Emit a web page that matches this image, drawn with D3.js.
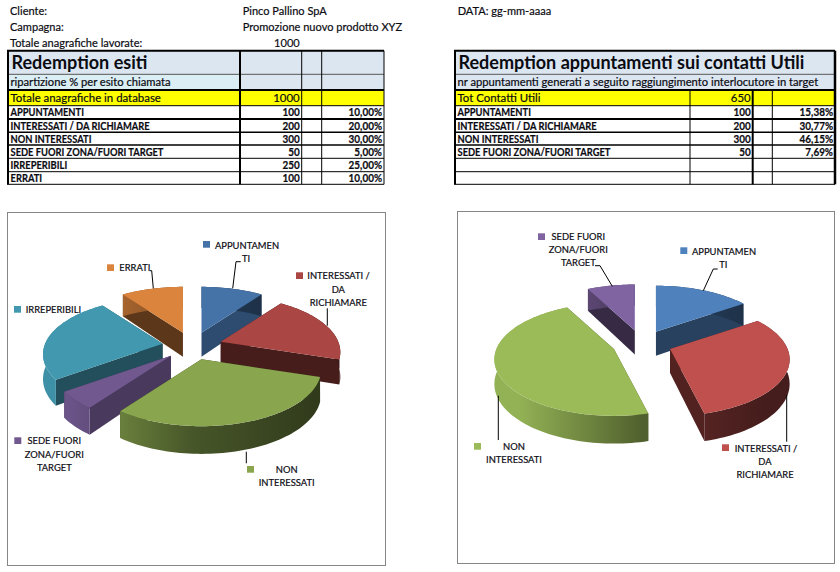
<!DOCTYPE html>
<html><head><meta charset="utf-8">
<script src="https://cdnjs.cloudflare.com/ajax/libs/d3/7.8.5/d3.min.js"></script>
<style>html,body{margin:0;padding:0;background:#fff}svg{display:block}text{font-family:Lato,Carlito,sans-serif;fill:#0b0b12;stroke:#0b0b12;stroke-width:.2}</style>
</head><body><svg id="c" width="840" height="572"></svg>
<script>
// ---------- data ----------
const categories = ["APPUNTAMENTI","INTERESSATI / DA RICHIAMARE","NON INTERESSATI","SEDE FUORI ZONA/FUORI TARGET","IRREPERIBILI","ERRATI"];
const esitiValues = [100,200,300,50,250,100];
const esitiPct = ["10,00%","20,00%","30,00%","5,00%","25,00%","10,00%"];
const utiliValues = [100,200,300,50];
const utiliPct = ["15,38%","30,77%","46,15%","7,69%"];
const headerInfo = [["Cliente:","Pinco Pallino SpA"],["Campagna:","Promozione nuovo prodotto XYZ"],["Totale anagrafiche lavorate:","1000"]];
const dateLabel = "DATA: gg-mm-aaaa";
const esitiTitle = ["Redemption esiti","ripartizione % per esito chiamata","Totale anagrafiche in database","1000"];
const utiliTitle = ["Redemption appuntamenti sui contatti Utili","nr appuntamenti generati a seguito raggiungimento interlocutore in target","Tot Contatti Utili","650"];
const leftColors = ["#4572a7","#aa4643","#89a54e","#71588f","#4198af","#db843d"];
const rightColors = ["#4f81bd","#c0504d","#9bbb59","#8064a2"];
const leftFaceShade = [.67,.42,.42,.65,.52,.42];
const rightFaceShade = [.5,.42,.42,.42];
const wrappedLabels = [["APPUNTAMEN","TI"],["INTERESSATI /","DA","RICHIAMARE"],["NON","INTERESSATI"],["SEDE FUORI","ZONA/FUORI","TARGET"],["IRREPERIBILI"],["ERRATI"]];

// ---------- layout (not data) ----------
const svg = d3.select("#c");
const defs = svg.append("defs");
const rowY = [50.7,74.3,90,105.7,119,132.3,145,158.3,171.7,184.3];
const lineW = [2,1,2,1,2,1.5,1.5,1,1,1];
// condense glyphs horizontally (Calibri-like proportions from an installed font)
function squeeze(sel,k){ sel.each(function(){ const n=this.getComputedTextLength();
  d3.select(this).attr("textLength",n*k).attr("lengthAdjust","spacingAndGlyphs"); }); return sel; }

function table(cols, titles, vals, pcts, merged){
  const g = svg.append("g");
  const [x0,x1,x2,x3,x4] = cols;
  const R = [
    {x:x0,w:merged?x4-x0:x1-x0,y:rowY[0],h:rowY[1]-rowY[0],f:"#dce6f1"},
    {x:x0,w:merged?x4-x0:x1-x0,y:rowY[1],h:rowY[2]-rowY[1],f:merged?"#dce6f1":"#daeef3"},
    {x:x0,w:x4-x0,y:rowY[2],h:rowY[3]-rowY[2],f:"#ffff00"}];
  if(!merged) R.push({x:x1,w:x4-x1,y:rowY[0],h:rowY[2]-rowY[0],f:"#dce6f1"});
  g.selectAll("rect").data(R).join("rect").attr("x",d=>d.x).attr("y",d=>d.y).attr("width",d=>d.w).attr("height",d=>d.h).attr("fill",d=>d.f);
  g.selectAll("line.h").data(rowY).join("line").attr("class","h")
    .attr("x1",x0-1).attr("x2",x4).attr("y1",d=>d).attr("y2",d=>d)
    .attr("stroke",(d,i)=>i==1?"#555":"#000").attr("stroke-width",(d,i)=>lineW[i]);
  const V = [
    {x:x0,y1:rowY[0],y2:rowY[9],w:2},
    {x:x1,y1:merged?rowY[2]:rowY[0],y2:rowY[9],w:merged?1:2},
    {x:x2,y1:merged?rowY[2]:rowY[0],y2:rowY[9],w:merged?2:1},
    {x:x3,y1:merged?rowY[2]:rowY[0],y2:rowY[9],w:1},
    {x:x4,y1:rowY[0],y2:rowY[9],w:merged?2.5:1}];
  g.selectAll("line.v").data(V).join("line").attr("class","v")
    .attr("x1",d=>d.x).attr("x2",d=>d.x).attr("y1",d=>d.y1).attr("y2",d=>d.y2)
    .attr("stroke","#000").attr("stroke-width",d=>d.w);
  const tx=x0+2.5;
  squeeze(g.append("text").attr("x",tx+1).attr("y",69).attr("font-size",18.4).attr("font-weight",700).style("stroke-width",0).text(titles[0]),0.98);
  g.append("text").attr("x",tx).attr("y",86).attr("font-size",11.2).text(titles[1]);
  squeeze(g.append("text").attr("x",tx).attr("y",102).attr("font-size",12).text(titles[2]),0.95);
  squeeze(g.append("text").attr("x",x2-2).attr("y",102).attr("font-size",12).attr("text-anchor","end").text(titles[3]),0.95);
  const rows = g.selectAll("g.row").data(vals).join("g").attr("class","row")
    .attr("transform",(d,i)=>`translate(0,${(rowY[i+3]+rowY[i+4])/2+4})`).attr("font-size",11).attr("font-weight",700);
  squeeze(rows.append("text").attr("x",tx).text((d,i)=>categories[i]),0.85);
  squeeze(rows.append("text").attr("x",x2-2).attr("text-anchor","end").text(d=>d),0.9);
  squeeze(rows.append("text").attr("x",x4-2).attr("text-anchor","end").text((d,i)=>pcts[i]),0.9);
}
svg.selectAll("g.info").data(headerInfo).join("g").attr("class","info")
  .attr("transform",(d,i)=>`translate(0,${[15,30.5,46.5][i]})`).attr("font-size",12)
  .each(function(d,i){
    const g=d3.select(this);
    squeeze(g.append("text").attr("x",10).text(d[0]),0.92);
    if(i<2) squeeze(g.append("text").attr("x",242.7).text(d[1]),0.92);
    else squeeze(g.append("text").attr("x",299.7).attr("text-anchor","end").text(d[1]),0.92);
  });
squeeze(svg.append("text").attr("x",457.7).attr("y",15).attr("font-size",12).text(dateLabel),0.92);
table([8,240,301.7,321.7,384],esitiTitle,esitiValues,esitiPct,false);
table([455,690,752.7,772.3,835],utiliTitle,utiliValues,utiliPct,true);

// ---------- 3D exploded pie ----------
const Rx=117.5, Ry=54.5, persp=0.186, explode=30, depth=24;
const proj=(a)=>{const X=Math.sin(a),Y=-Math.cos(a),s=1/(1-Y*persp);return {x:X*Rx*s,y:Y*Ry*s,s};};
const shade=(c,k)=>{const r=d3.rgb(c);return d3.rgb(r.r*k,r.g*k,r.b*k).formatHex();};
const poly=d3.line().x(d=>d[0]).y(d=>d[1]);
let gid=0;
function pie3d(values,colors,faceShade,cx,cy,frame,labels){
  const g=svg.append("g");
  g.append("rect").attr("x",frame[0]).attr("y",frame[1]).attr("width",frame[2]).attr("height",frame[3])
    .attr("fill","#fff").attr("stroke","#868686").attr("stroke-width",1);
  const color=d3.scaleOrdinal().domain(d3.range(values.length)).range(colors);
  const arcs=d3.pie().sort(null)(values).map(d=>{
    const mid=(d.startAngle+d.endAngle)/2;
    const ax=cx+Math.sin(mid)*explode, ay=cy-Math.cos(mid)*explode*Ry/Rx;
    return {...d,ax,ay};
  }).sort((a,b)=>a.ay-b.ay);
  arcs.forEach(d=>{
    const c=color(d.index), steps=Math.ceil((d.endAngle-d.startAngle)/0.03);
    const top=d3.range(steps+1).map(i=>{
      const a=d.startAngle+(d.endAngle-d.startAngle)*i/steps,p=proj(a);
      return {x:d.ax+p.x,y:d.ay+p.y,dz:depth*Math.pow(p.s,0.7)};
    });
    const sg=g.append("g");
    const face=shade(c,faceShade[d.index]);
    [top[0],top[top.length-1]].forEach(p=>{
      sg.append("path").attr("fill",face)
        .attr("d",poly([[d.ax,d.ay],[p.x,p.y],[p.x,p.y+p.dz],[d.ax,d.ay+depth]])+"Z");
    });
    const id="rim"+(gid++);
    const lg=defs.append("linearGradient").attr("id",id).attr("gradientUnits","userSpaceOnUse")
      .attr("x1",cx-Rx*1.05).attr("x2",cx+Rx*1.05).attr("y1",0).attr("y2",0);
    [[0,.95],[.5,.52],[1,.36]].forEach(s=>lg.append("stop").attr("offset",s[0]).attr("stop-color",shade(c,s[1])));
    sg.append("path").attr("fill",`url(#${id})`)
      .attr("d",poly(top.map(p=>[p.x,p.y]).concat(top.slice().reverse().map(p=>[p.x,p.y+p.dz])))+"Z");
    sg.append("path").attr("fill",c)
      .attr("d",poly([[d.ax,d.ay]].concat(top.map(p=>[p.x,p.y])))+"Z");
  });
  const lg=g.selectAll("g.lab").data(labels).join("g").attr("class","lab").attr("font-size",10.3);
  lg.each(function(l){
    const s=d3.select(this), lines=wrappedLabels[l.i];
    if(l.lead) s.append("path").attr("d",poly(l.lead)).attr("fill","none").attr("stroke","#000").attr("stroke-width",1);
    s.append("rect").attr("x",l.kx).attr("y",l.ky).attr("width",7).attr("height",6.7).attr("fill",color(l.i));
    lines.forEach((t,j)=>{
      const first=(j==0&&l.tx!==undefined);
      squeeze(s.append("text").attr("x",first?l.tx:l.c).attr("y",l.ys[j]+3.6)
        .attr("text-anchor",first?"start":"middle").text(t),0.91);
    });
  });
}
const leftLabels=[
 {i:0,kx:203,ky:241,tx:215,c:246,ys:[245.3,258.7],lead:[[232.7,288.3],[236,261.7],[240.7,261.7]]},
 {i:1,kx:296,ky:272.3,tx:307.3,c:338.3,ys:[275.7,289,302],lead:[[327.3,325.7],[327.3,308.3]]},
 {i:2,kx:247,ky:466,c:286.7,ys:[469.3,482.3],lead:[[246.3,451.7],[246.3,463.3]]},
 {i:3,kx:14.3,ky:437.3,c:54.3,ys:[440.3,454.7,467.3]},
 {i:4,kx:14,ky:306,tx:25.7,c:0,ys:[309.7]},
 {i:5,kx:107,ky:264.3,tx:119.3,c:0,ys:[267.7],lead:[[153.3,288.3],[151.7,270.7],[149.7,270.7]]}];
const rightLabels=[
 {i:0,kx:680.3,ky:247.3,tx:692,c:723.3,ys:[251,264.3],lead:[[703.3,290.7],[713.3,269],[717.7,269]]},
 {i:1,kx:722,ky:444.3,tx:734.7,c:765,ys:[448.3,461.7,474.3],lead:[[786.7,395],[786.7,441.7]]},
 {i:2,kx:474,ky:443,c:514,ys:[446.3,459.3],lead:[[498.3,395.7],[498.3,440]]},
 {i:3,kx:538,ky:233.3,c:578.3,ys:[236.3,249.7,262.3],lead:[[595,265.7],[600,265.7],[612.3,286.3]]}];
pie3d(esitiValues,leftColors,leftFaceShade,192.2,346,[7.5,212.5,378,353],leftLabels);
pie3d(utiliValues,rightColors,rightFaceShade,642,344,[457.5,211.5,377,352],rightLabels);
</script></body></html>
